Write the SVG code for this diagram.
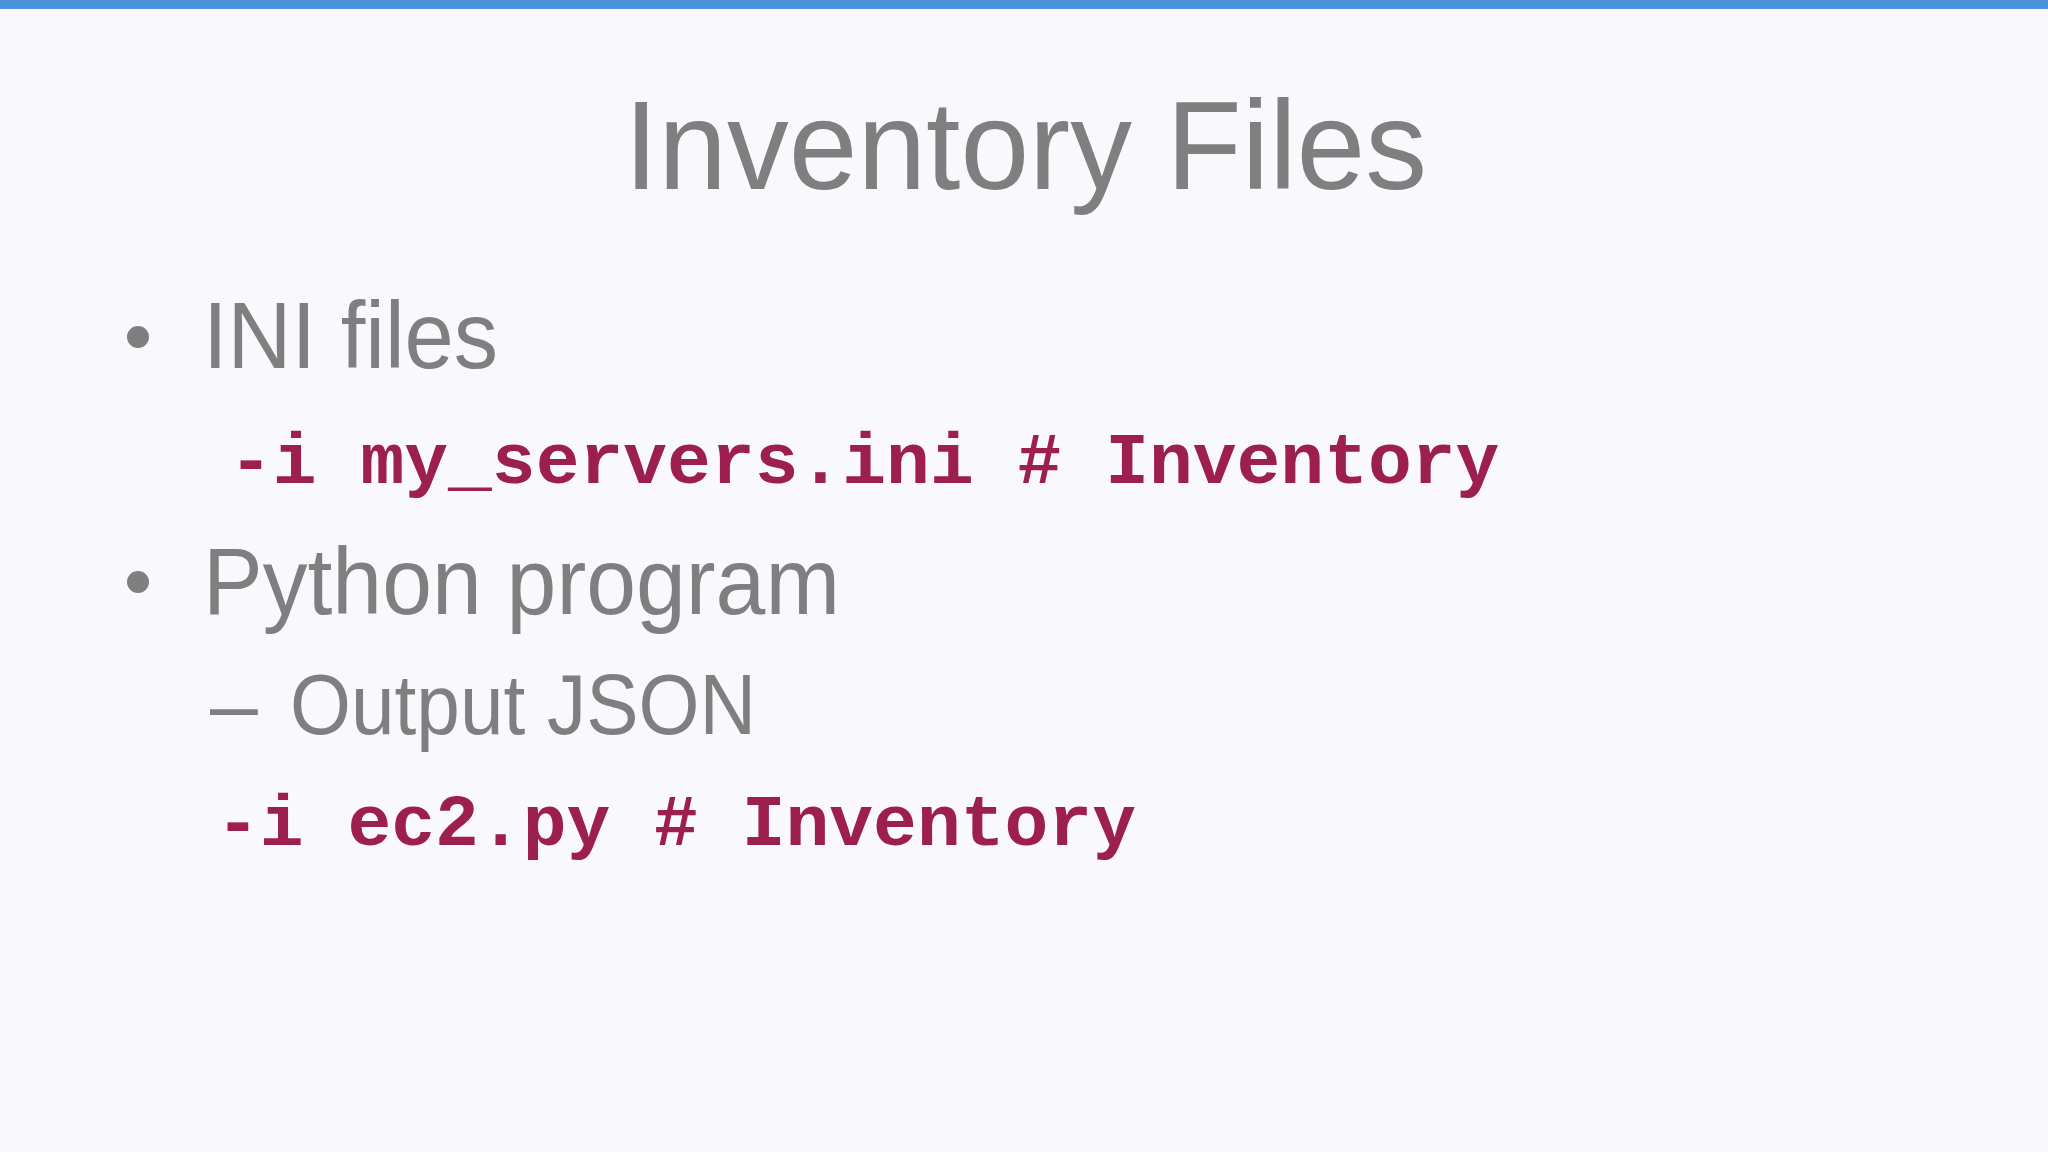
<svg xmlns="http://www.w3.org/2000/svg" width="2048" height="1152" viewBox="0 0 2048 1152">
<style>
.t{font-family:"Liberation Sans",Arial,sans-serif;fill:#7f7f7f}
.c{font-family:"Liberation Mono","DejaVu Sans Mono",monospace;font-weight:bold;fill:#9c1f50;font-size:73px}
</style>
<rect width="2048" height="1152" fill="#f9f8fc"/>
<rect width="2048" height="9" fill="#4a94dc"/>
<text class="t" x="624" y="189" font-size="126" textLength="803" lengthAdjust="spacingAndGlyphs">Inventory Files</text>
<circle cx="138" cy="337" r="11" fill="#7f7f7f"/>
<text class="t" x="203" y="368" font-size="95" textLength="295" lengthAdjust="spacingAndGlyphs">INI files</text>
<text class="c" x="229" y="483">-i my_servers.ini # Inventory</text>
<circle cx="138" cy="582" r="11" fill="#7f7f7f"/>
<text class="t" x="203" y="614" font-size="95" textLength="637" lengthAdjust="spacingAndGlyphs">Python program</text>
<text class="t" x="210" y="734" font-size="86">–</text>
<text class="t" x="290" y="734" font-size="86" textLength="466" lengthAdjust="spacingAndGlyphs">Output JSON</text>
<text class="c" x="216" y="845">-i ec2.py # Inventory</text>
</svg>
